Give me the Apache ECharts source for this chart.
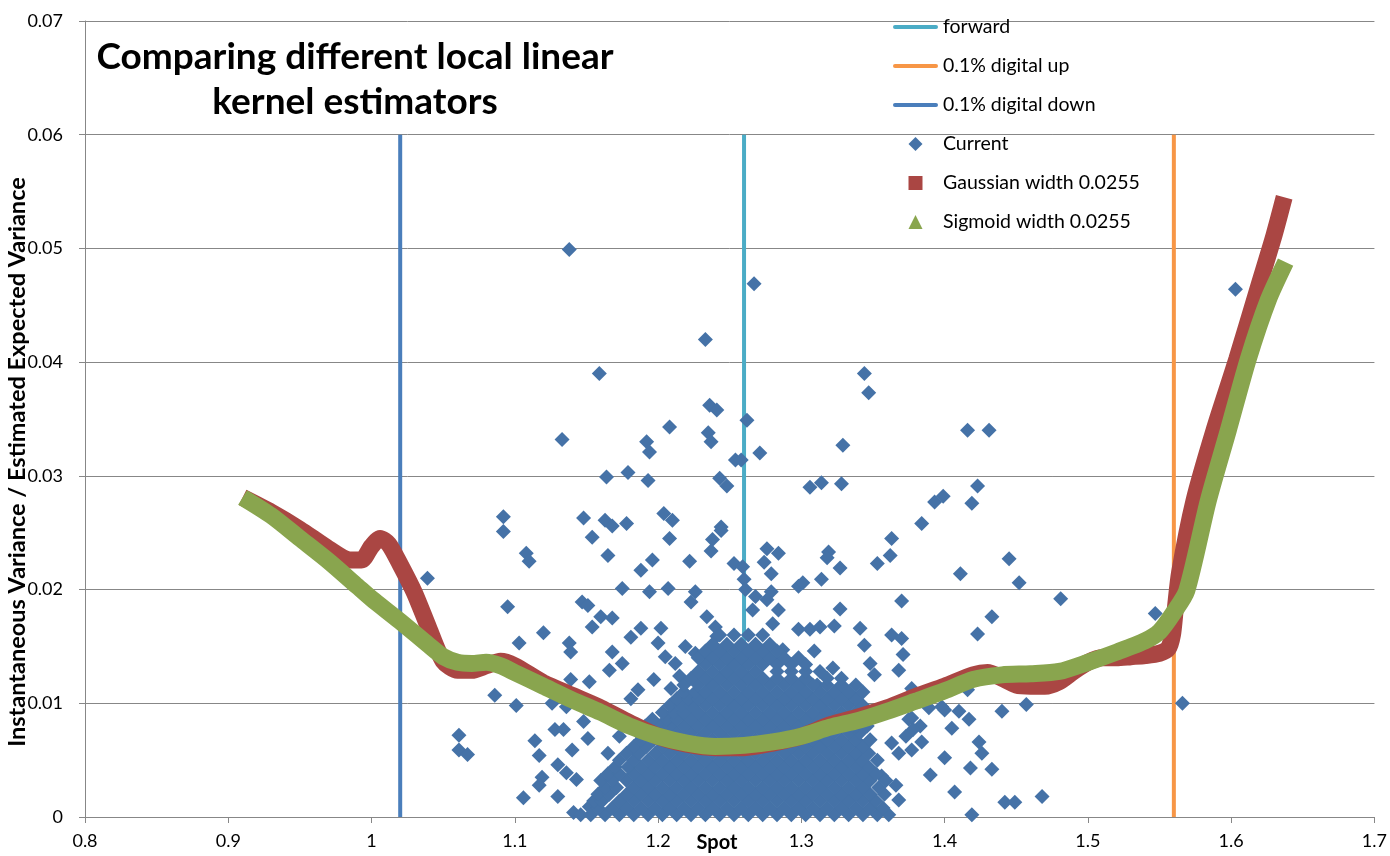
<!DOCTYPE html>
<html>
<head>
<meta charset="utf-8">
<title>Comparing different local linear kernel estimators</title>
<script src="https://cdn.jsdelivr.net/npm/echarts@6/dist/echarts.min.js"></script>
<style>
  html, body { margin: 0; padding: 0; background: #fff; }
  #chart { width: 1390px; height: 856px; }
</style>
</head>
<body>
<div id="chart"></div>
<script>
// x = spot, y = instantaneous variance / estimated expected variance
const xTicks = { min: 0.8, max: 1.7, step: 0.1 };
const yTicks = { min: 0, max: 0.07, step: 0.01 };

// vertical reference lines (spot level), drawn from 0 up to 0.06
const forwardX = 1.26;
const digitalUpX = 1.56;
const digitalDownX = 1.02;
const vLineTop = 0.06;

// Gaussian kernel estimate (red squares)
const gaussian = [
  [0.910,0.0281],[0.930,0.0268],[0.950,0.0253],[0.970,0.0236],[0.985,0.0226],[0.993,0.0226],
  [1.000,0.0238],[1.006,0.0245],[1.012,0.0240],[1.020,0.0222],[1.030,0.0197],[1.040,0.0166],
  [1.050,0.0137],[1.060,0.0129],[1.070,0.0129],[1.080,0.0133],[1.090,0.0137],[1.100,0.0133],
  [1.120,0.0118],[1.140,0.0107],[1.160,0.0096],[1.180,0.0083],[1.200,0.0071],[1.220,0.0064],
  [1.240,0.0061],[1.260,0.0061],[1.280,0.0065],[1.300,0.0071],[1.320,0.0081],[1.340,0.0088],
  [1.360,0.0096],[1.380,0.0106],[1.400,0.0115],[1.420,0.0125],[1.430,0.0127],[1.440,0.0122],
  [1.450,0.0116],[1.460,0.0115],[1.470,0.0115],[1.480,0.0119],[1.490,0.0128],[1.500,0.0136],
  [1.510,0.0140],[1.520,0.0140],[1.530,0.0141],[1.540,0.0142],[1.550,0.0144],[1.556,0.0148],
  [1.559,0.0160],[1.561,0.0183],[1.564,0.0215],[1.574,0.0278],[1.588,0.0340],[1.604,0.0403],
  [1.619,0.0466],[1.630,0.0512],[1.637,0.0545]
];

// Sigmoid kernel estimate (green triangles)
const sigmoid = [
  [0.910,0.0281],[0.930,0.0265],[0.950,0.0245],[0.970,0.0225],[0.990,0.0203],[1.000,0.0192],
  [1.020,0.0172],[1.040,0.0151],[1.050,0.0141],[1.060,0.0136],[1.070,0.0135],[1.080,0.0136],
  [1.090,0.0133],[1.100,0.0127],[1.120,0.0115],[1.140,0.0103],[1.160,0.0092],[1.180,0.0080],
  [1.200,0.0071],[1.220,0.0065],[1.240,0.0062],[1.260,0.0063],[1.280,0.0066],[1.300,0.0071],
  [1.320,0.0079],[1.340,0.0085],[1.360,0.0093],[1.380,0.0102],[1.400,0.0111],[1.420,0.0121],
  [1.440,0.0125],[1.460,0.0126],[1.480,0.0128],[1.500,0.0136],[1.520,0.0145],[1.540,0.0155],
  [1.550,0.0163],[1.560,0.0180],[1.569,0.0199],[1.584,0.0278],[1.598,0.0340],[1.612,0.0403],
  [1.626,0.0455],[1.638,0.0488]
];

// "Current" observations, the scattered ones
const currentSparse = [
  [1.138,0.0499],[1.267,0.0469],[1.233,0.0420],[1.159,0.0390],[1.344,0.0390],[1.347,0.0373],
  [1.236,0.0362],[1.241,0.0358],[1.133,0.0332],[1.208,0.0343],[1.192,0.0330],[1.194,0.0321],
  [1.235,0.0338],[1.237,0.0330],[1.254,0.0314],[1.164,0.0299],[1.179,0.0303],[1.193,0.0296],
  [1.243,0.0298],[1.248,0.0291],[1.092,0.0264],[1.092,0.0251],[1.148,0.0263],[1.163,0.0261],
  [1.168,0.0256],[1.178,0.0258],[1.204,0.0267],[1.210,0.0261],[1.244,0.0255],[1.262,0.0349],
  [1.258,0.0314],[1.271,0.0320],[1.329,0.0327],[1.306,0.0290],[1.314,0.0294],[1.328,0.0293],
  [1.416,0.0340],[1.431,0.0340],[1.423,0.0291],[1.419,0.0276],[1.393,0.0277],[1.399,0.0282],
  [1.384,0.0258],[1.039,0.0210],[1.061,0.0072],[1.061,0.0059],[1.067,0.0055],[1.086,0.0107],
  [1.095,0.0185],[1.101,0.0098],[1.108,0.0232],[1.110,0.0225],[1.103,0.0153],[1.120,0.0162],
  [1.154,0.0246],[1.165,0.0230],[1.196,0.0226],[1.188,0.0217],[1.208,0.0245],[1.222,0.0225],
  [1.238,0.0244],[1.244,0.0252],[1.237,0.0234],[1.253,0.0223],[1.175,0.0201],[1.194,0.0198],
  [1.207,0.0201],[1.147,0.0189],[1.151,0.0186],[1.160,0.0176],[1.168,0.0175],[1.154,0.0167],
  [1.138,0.0153],[1.139,0.0145],[1.168,0.0145],[1.188,0.0166],[1.181,0.0158],[1.202,0.0166],
  [1.200,0.0153],[1.226,0.0198],[1.223,0.0189],[1.234,0.0176],[1.241,0.0159],[1.240,0.0167],
  [1.219,0.0150],[1.226,0.0144],[1.205,0.0141],[1.212,0.0135],[1.236,0.0140],[1.175,0.0135],
  [1.166,0.0129],[1.152,0.0119],[1.139,0.0121],[1.126,0.0100],[1.136,0.0097],[1.114,0.0067],
  [1.117,0.0054],[1.128,0.0077],[1.134,0.0077],[1.148,0.0084],[1.151,0.0069],[1.140,0.0059],
  [1.130,0.0046],[1.136,0.0039],[1.119,0.0035],[1.117,0.0028],[1.143,0.0033],[1.106,0.0017],
  [1.130,0.0018],[1.141,0.0004],[1.152,0.0009],[1.165,0.0056],[1.173,0.0071],[1.184,0.0059],
  [1.259,0.0220],[1.260,0.0209],[1.261,0.0200],[1.268,0.0194],[1.279,0.0198],[1.276,0.0236],
  [1.284,0.0232],[1.274,0.0224],[1.279,0.0214],[1.319,0.0233],[1.318,0.0228],[1.327,0.0219],
  [1.314,0.0209],[1.298,0.0203],[1.301,0.0206],[1.363,0.0245],[1.362,0.0230],[1.353,0.0223],
  [1.411,0.0214],[1.445,0.0227],[1.452,0.0206],[1.481,0.0192],[1.370,0.0190],[1.433,0.0176],
  [1.423,0.0161],[1.327,0.0183],[1.323,0.0168],[1.341,0.0166],[1.363,0.0160],[1.370,0.0157],
  [1.344,0.0151],[1.371,0.0143],[1.368,0.0129],[1.348,0.0135],[1.351,0.0125],[1.322,0.0131],
  [1.328,0.0116],[1.311,0.0116],[1.309,0.0146],[1.306,0.0165],[1.313,0.0167],[1.298,0.0165],
  [1.287,0.0147],[1.280,0.0170],[1.284,0.0182],[1.276,0.0191],[1.266,0.0182],[1.547,0.0179],
  [1.566,0.0100],[1.603,0.0464],[1.440,0.0093],[1.457,0.0099],[1.416,0.0112],[1.389,0.0096],
  [1.400,0.0094],[1.410,0.0093],[1.417,0.0086],[1.405,0.0078],[1.424,0.0066],[1.384,0.0066],
  [1.377,0.0059],[1.363,0.0065],[1.400,0.0052],[1.426,0.0056],[1.418,0.0043],[1.433,0.0042],
  [1.390,0.0037],[1.407,0.0022],[1.442,0.0013],[1.449,0.0013],[1.468,0.0018],[1.419,0.0002],
  [1.368,0.0015],[1.366,0.0028],[1.356,0.0036],[1.353,0.0050],[1.368,0.0056],[1.373,0.0071],
  [1.383,0.0080],[1.377,0.0087],[1.377,0.0113],[1.398,0.0097],[1.375,0.0086],[1.378,0.0077],
  [1.186,0.0112],[1.197,0.0121],[1.209,0.0113],[1.215,0.0124],[1.181,0.0104]
];

// "Current" observations in the dense blob near the bottom: [y, [x, x, ...]] per row
const currentDenseRows = [
  [0.0002, [1.146,1.153,1.163,1.173,1.183,1.193,1.203,1.213,1.223,1.233,1.243,1.253,1.263,1.273,1.283,1.293,1.303,1.313,1.323,1.333,1.343,1.353,1.361]],
  [0.0008, [1.158,1.168,1.178,1.188,1.198,1.208,1.218,1.228,1.238,1.248,1.258,1.268,1.278,1.288,1.298,1.308,1.318,1.328,1.338,1.348,1.357]],
  [0.0014, [1.155,1.161,1.173,1.183,1.193,1.203,1.213,1.223,1.233,1.243,1.253,1.263,1.273,1.283,1.293,1.303,1.313,1.323,1.333,1.343,1.352]],
  [0.0020, [1.158,1.166,1.178,1.188,1.198,1.208,1.218,1.228,1.238,1.248,1.258,1.268,1.278,1.288,1.298,1.308,1.318,1.328,1.338,1.348,1.358]],
  [0.0026, [1.163,1.171,1.183,1.193,1.203,1.213,1.223,1.233,1.243,1.253,1.263,1.273,1.283,1.293,1.303,1.313,1.323,1.333,1.343,1.354]],
  [0.0032, [1.160,1.168,1.178,1.188,1.198,1.208,1.218,1.228,1.238,1.248,1.258,1.268,1.278,1.288,1.298,1.308,1.318,1.328,1.338,1.348,1.359]],
  [0.0038, [1.165,1.173,1.183,1.193,1.203,1.213,1.223,1.233,1.243,1.253,1.263,1.273,1.283,1.293,1.303,1.313,1.323,1.333,1.343,1.352]],
  [0.0044, [1.170,1.179,1.188,1.198,1.208,1.218,1.228,1.238,1.248,1.258,1.268,1.278,1.288,1.298,1.308,1.318,1.328,1.338,1.347]],
  [0.0050, [1.173,1.183,1.193,1.203,1.213,1.223,1.233,1.243,1.253,1.263,1.273,1.283,1.293,1.303,1.313,1.323,1.333,1.342]],
  [0.0056, [1.178,1.187,1.198,1.208,1.218,1.228,1.238,1.248,1.258,1.268,1.278,1.288,1.298,1.308,1.318,1.328,1.338,1.347]],
  [0.0062, [1.183,1.192,1.203,1.213,1.223,1.233,1.243,1.253,1.263,1.273,1.283,1.293,1.303,1.313,1.323,1.333,1.343]],
  [0.0068, [1.188,1.197,1.208,1.218,1.228,1.238,1.248,1.258,1.268,1.278,1.288,1.298,1.308,1.318,1.328,1.338,1.348]],
  [0.0074, [1.186,1.194,1.203,1.213,1.223,1.233,1.243,1.253,1.263,1.273,1.283,1.293,1.303,1.313,1.323,1.333,1.341]],
  [0.0080, [1.191,1.201,1.208,1.218,1.228,1.238,1.248,1.258,1.268,1.278,1.288,1.298,1.308,1.318,1.328,1.338,1.346]],
  [0.0086, [1.196,1.206,1.213,1.223,1.233,1.243,1.253,1.263,1.273,1.283,1.293,1.303,1.313,1.323,1.333,1.343]],
  [0.0092, [1.203,1.211,1.218,1.228,1.238,1.248,1.258,1.268,1.278,1.288,1.298,1.308,1.318,1.328,1.338,1.347]],
  [0.0098, [1.208,1.216,1.223,1.233,1.243,1.253,1.263,1.273,1.283,1.293,1.303,1.313,1.323,1.333,1.343]],
  [0.0104, [1.213,1.221,1.228,1.238,1.248,1.258,1.268,1.278,1.288,1.298,1.308,1.318,1.328,1.338]],
  [0.0110, [1.218,1.226,1.233,1.243,1.253,1.263,1.273,1.283,1.293,1.303,1.313,1.323,1.333,1.343]],
  [0.0116, [1.218,1.228,1.238,1.248,1.258,1.268,1.278,1.288,1.298,1.308,1.318,1.328,1.338]],
  [0.0122, [1.223,1.233,1.243,1.253,1.263,1.273,1.283,1.293,1.303,1.318,1.328]],
  [0.0128, [1.228,1.238,1.248,1.258,1.268,1.283,1.293,1.303,1.313]],
  [0.0134, [1.233,1.243,1.253,1.263,1.273,1.283,1.293,1.303]],
  [0.0140, [1.228,1.238,1.248,1.258,1.268,1.278,1.288,1.298]],
  [0.0146, [1.233,1.243,1.253,1.263,1.273,1.283]],
  [0.0152, [1.238,1.248,1.258,1.268,1.278]],
  [0.0160, [1.243,1.253,1.263,1.273]]
];

const FONT = 'Lato, "Noto Sans", sans-serif';
const GRID_GRAY = '#878787';

// legend icons (path icons keep their aspect inside the 45x14 legend slot)
const ICON_LINE = 'path://M2,0H43A2,2 0 0 1 43,4H2A2,2 0 0 1 2,0Z';
const ICON_DIAMOND = 'path://M7,0L14,7L7,14L0,7Z';
const ICON_SQUARE = 'path://M0,0H14V14H0Z';
const ICON_TRIANGLE = 'path://M7,0L14,14H0Z';

// 把密集行展开成点
const currentDense = [];
currentDenseRows.forEach(row => {
  row[1].forEach(x => currentDense.push([x, row[0]]));
});
const current = currentSparse.concat(currentDense);

function vLine(name, x, color) {
  return {
    name: name,
    type: 'line',
    data: [[x, 0], [x, vLineTop]],
    symbol: 'none',
    silent: true,
    z: 1,
    lineStyle: { color: color, width: 4 },
    itemStyle: { color: color }
  };
}

function kernelLine(name, data, color) {
  return {
    name: name,
    type: 'line',
    data: data,
    smooth: 0.25,
    showSymbol: false,
    silent: true,
    z: 4,
    lineStyle: { color: color, width: 17 },
    itemStyle: { color: color }
  };
}

const chart = echarts.init(document.getElementById('chart'));
chart.setOption({
  animation: false,
  backgroundColor: '#fff',
  grid: { left: 85, right: 14, top: 21, bottom: 39 },
  xAxis: {
    type: 'value',
    min: xTicks.min, max: xTicks.max, interval: xTicks.step,
    axisLine: { lineStyle: { color: GRID_GRAY } },
    axisTick: { length: 6, lineStyle: { color: GRID_GRAY } },
    splitLine: { show: false },
    axisLabel: { color: '#000', fontFamily: FONT, fontSize: 18, margin: 15 }
  },
  yAxis: {
    type: 'value',
    min: yTicks.min, max: yTicks.max, interval: yTicks.step,
    axisLine: { show: true, lineStyle: { color: GRID_GRAY } },
    axisTick: { show: true, length: 6, lineStyle: { color: GRID_GRAY } },
    splitLine: { lineStyle: { color: GRID_GRAY } },
    axisLabel: { color: '#000', fontFamily: FONT, fontSize: 18, margin: 22 }
  },
  legend: {
    orient: 'vertical',
    left: 888, top: 12,
    itemWidth: 45, itemHeight: 14, itemGap: 19,
    selectedMode: false,
    textStyle: { color: '#000', fontFamily: FONT, fontSize: 19.5 },
    data: [
      { name: 'forward', icon: ICON_LINE },
      { name: '0.1% digital up', icon: ICON_LINE },
      { name: '0.1% digital down', icon: ICON_LINE },
      { name: 'Current', icon: ICON_DIAMOND },
      { name: 'Gaussian width 0.0255', icon: ICON_SQUARE },
      { name: 'Sigmoid width 0.0255', icon: ICON_TRIANGLE }
    ]
  },
  graphic: [
    {
      type: 'text', x: 355, y: 35, silent: true,
      style: {
        text: 'Comparing different local linear\nkernel estimators',
        fill: '#000', fontFamily: FONT, fontWeight: 'bold', fontSize: 37,
        lineHeight: 45, align: 'center', verticalAlign: 'top'
      }
    },
    {
      type: 'text', x: 17, y: 462, rotation: Math.PI / 2, silent: true,
      style: {
        text: 'Instantaneous Variance / Estimated Expected Variance',
        fill: '#000', fontFamily: FONT, fontWeight: 'bold', fontSize: 23.5,
        align: 'center', verticalAlign: 'middle'
      }
    },
    {
      type: 'text', x: 717, y: 843, silent: true,
      style: {
        text: 'Spot', fill: '#000', fontFamily: FONT, fontWeight: 'bold', fontSize: 20,
        align: 'center', verticalAlign: 'middle'
      }
    }
  ],
  series: [
    vLine('forward', forwardX, '#4BACC6'),
    vLine('0.1% digital up', digitalUpX, '#F79646'),
    vLine('0.1% digital down', digitalDownX, '#4A7EBB'),
    {
      name: 'Current',
      type: 'scatter',
      data: current,
      symbol: 'diamond',
      symbolSize: 15,
      silent: true,
      z: 3,
      itemStyle: { color: '#4572A7', opacity: 1 }
    },
    kernelLine('Gaussian width 0.0255', gaussian, '#AA4643'),
    kernelLine('Sigmoid width 0.0255', sigmoid, '#89A54E')
  ]
});
</script>
</body>
</html>
